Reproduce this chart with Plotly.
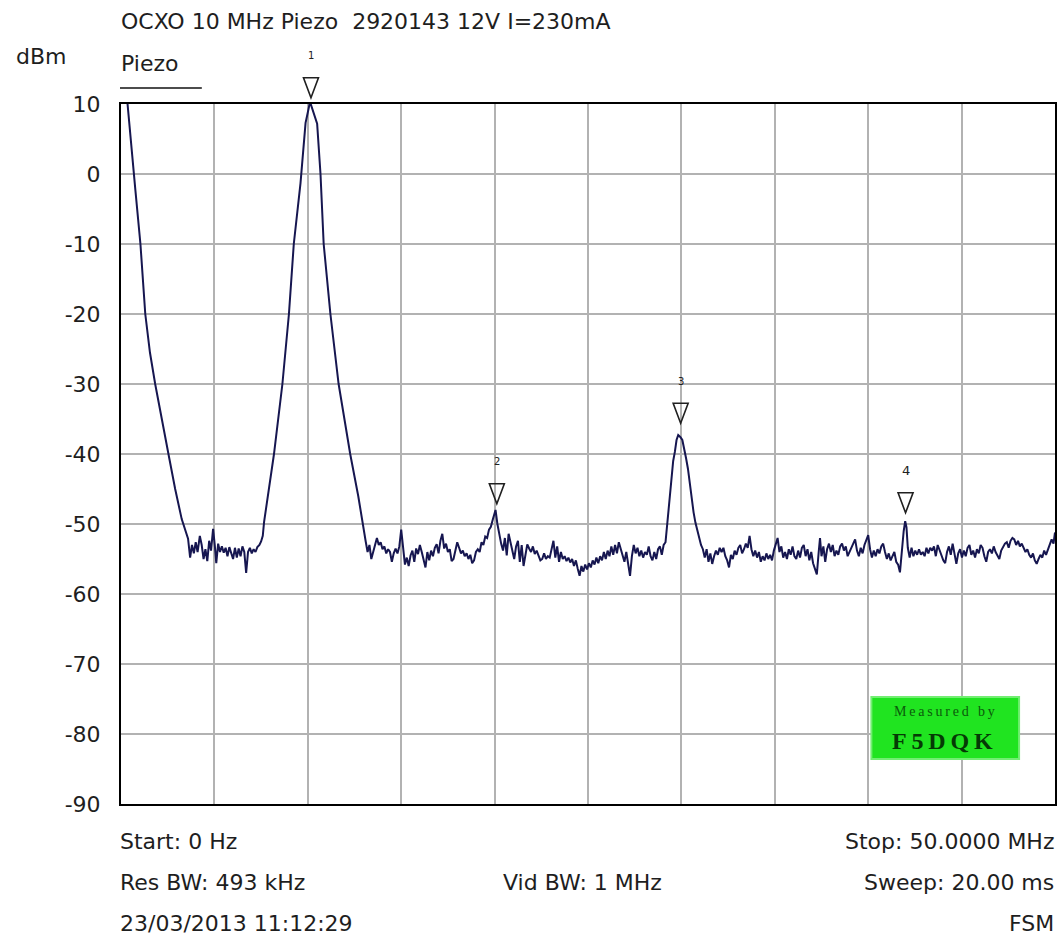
import plotly.graph_objects as go

# ---- data ----
FREQ_MHZ = [
    # LO feedthrough and first noise floor
    0.00, 0.35, 0.77, 1.04, 1.30, 1.55, 1.83, 2.20, 2.54, 2.90, 3.25,
    3.59, 3.70, 3.80, 3.90, 4.00, 4.10, 4.22, 4.32, 4.42, 4.52, 4.62, 4.72, 4.82, 4.93, 5.02, 5.10,
    5.20, 5.30, 5.40, 5.50, 5.60, 5.70, 5.80, 5.90, 6.00, 6.10, 6.20, 6.30, 6.40, 6.50, 6.60, 6.70,
    6.80, 6.90, 7.00, 7.10, 7.20, 7.30, 7.41, 7.50, 7.59,
    # 10 MHz carrier
    7.66, 7.92, 8.19, 8.64, 8.99, 9.25, 9.61, 9.88, 10.12, 10.50, 10.68, 10.85, 11.21, 11.65,
    12.27, 12.70,
    # noise floor 13-20 MHz
    12.97, 13.10, 13.20, 13.30, 13.40, 13.50, 13.60, 13.70, 13.80, 13.90, 14.00, 14.10, 14.20, 14.30,
    14.40, 14.50, 14.60, 14.70, 14.80, 14.90, 15.00, 15.10, 15.20, 15.30, 15.40, 15.50, 15.60, 15.70,
    15.80, 15.90, 16.00, 16.10, 16.20, 16.30, 16.40, 16.50, 16.60, 16.70, 16.80, 16.90, 17.00, 17.10,
    17.20, 17.30, 17.40, 17.50, 17.60, 17.70, 17.80, 17.90, 18.00, 18.10, 18.20, 18.30, 18.40, 18.50,
    18.60, 18.70, 18.80, 18.90, 19.00, 19.10, 19.20, 19.30, 19.40, 19.50, 19.60, 19.70, 19.80, 19.90,
    # 2nd harmonic and noise 20-29 MHz
    20.05, 20.15, 20.25, 20.35, 20.45, 20.55, 20.65, 20.75, 20.85, 20.95, 21.05, 21.15, 21.25, 21.35,
    21.45, 21.55, 21.65, 21.75, 21.85, 21.95, 22.05, 22.15, 22.25, 22.35, 22.45, 22.55, 22.65, 22.75,
    22.85, 22.95, 23.05, 23.15, 23.25, 23.35, 23.45, 23.55, 23.65, 23.75, 23.85, 23.95, 24.05, 24.15,
    24.25, 24.35, 24.45, 24.55, 24.65, 24.75, 24.85, 24.95, 25.05, 25.15, 25.25, 25.35, 25.45, 25.55,
    25.65, 25.75, 25.85, 25.95, 26.05, 26.15, 26.25, 26.35, 26.45, 26.55, 26.65, 26.75, 26.85, 26.95,
    27.05, 27.15, 27.25, 27.35, 27.45, 27.55, 27.65, 27.75, 27.85, 27.95, 28.05, 28.15, 28.25, 28.35,
    28.45, 28.55, 28.65, 28.75, 28.85, 28.95, 29.05, 29.15, 29.22,
    # 3rd harmonic
    29.30, 29.40, 29.47, 29.56, 29.65, 29.74, 29.83, 29.95, 30.05, 30.15, 30.25, 30.35, 30.45, 30.55,
    30.65, 30.75, 30.85, 30.95, 31.05, 31.15,
    # noise 31-50 MHz
    31.25, 31.35, 31.45, 31.55, 31.65, 31.75, 31.85, 31.95, 32.05, 32.15, 32.25, 32.35, 32.45, 32.55,
    32.65, 32.75, 32.85, 32.95, 33.05, 33.15, 33.25, 33.35, 33.45, 33.55, 33.65, 33.75, 33.85, 33.95,
    34.05, 34.15, 34.25, 34.35, 34.45, 34.55, 34.65, 34.75, 34.85, 34.95, 35.05, 35.15, 35.25, 35.35,
    35.45, 35.55, 35.65, 35.75, 35.85, 35.95, 36.05, 36.15, 36.25, 36.35, 36.45, 36.55, 36.65, 36.75,
    36.85, 36.95, 37.05, 37.15, 37.25, 37.35, 37.42, 37.50, 37.60, 37.70, 37.80, 37.90, 38.00, 38.10,
    38.20, 38.30, 38.40, 38.50, 38.60, 38.70, 38.80, 38.90, 39.00, 39.10, 39.20, 39.30, 39.40, 39.50,
    39.60, 39.70, 39.80, 39.90, 40.00, 40.10, 40.20, 40.30, 40.40, 40.50, 40.60, 40.70, 40.80, 40.90,
    41.00, 41.10, 41.20, 41.30, 41.40, 41.50, 41.60, 41.70, 41.80, 41.90, 41.98, 42.05, 42.12, 42.22,
    42.32, 42.42, 42.52, 42.62, 42.72, 42.82, 42.92, 43.02, 43.12, 43.22, 43.32, 43.42, 43.52, 43.62,
    43.72, 43.82, 43.92, 44.02, 44.12, 44.22, 44.32, 44.42, 44.52, 44.62, 44.72, 44.82, 44.92, 45.02,
    45.12, 45.22, 45.32, 45.42, 45.52, 45.62, 45.72, 45.82, 45.92, 46.02, 46.12, 46.22, 46.32, 46.42,
    46.52, 46.62, 46.72, 46.82, 46.92, 47.02, 47.12, 47.22, 47.32, 47.42, 47.52, 47.62, 47.72, 47.82,
    47.92, 48.02, 48.12, 48.22, 48.32, 48.42, 48.52, 48.62, 48.72, 48.82, 48.92, 49.02, 49.12, 49.22,
    49.32, 49.42, 49.52, 49.62, 49.72, 49.82, 49.92, 50.00,
]
LEVEL_DBM = [
    16.0, 10.0, -2.3, -10.0, -20.0, -25.5, -30.0, -35.5, -40.0, -45.0, -49.3,
    -52.1, -54.8, -53.0, -54.2, -52.6, -54.0, -51.7, -53.0, -55.0, -53.6, -55.3, -52.4, -53.8, -50.7, -53.0, -55.6,
    -52.8, -54.0, -53.2, -54.1, -53.4, -54.6, -53.3, -54.0, -55.0, -53.4, -54.8, -53.5, -54.6, -53.2, -54.0, -57.0,
    -54.0, -53.4, -54.2, -53.6, -54.0, -53.3, -53.0, -52.5, -51.7,
    -49.7, -45.0, -40.0, -30.0, -20.0, -10.0, -1.3, 7.3, 10.3, 7.2, 0.0, -10.0, -20.0, -30.0,
    -40.0, -46.0,
    -50.7, -52.5, -54.0, -53.0, -55.0, -54.0, -52.8, -52.0, -53.0, -52.6, -53.6, -53.2, -54.2, -53.6,
    -54.0, -55.4, -54.2, -53.5, -54.2, -53.2, -50.8, -53.5, -55.8, -54.8, -56.0, -54.5, -53.8, -55.4,
    -53.5, -54.3, -53.0, -54.0, -55.2, -56.2, -54.0, -55.2, -53.8, -54.6, -53.4, -52.9, -54.2, -52.4,
    -51.4, -53.5, -52.8, -54.0, -53.6, -55.3, -55.0, -53.6, -52.6, -53.4, -54.2, -53.8, -54.6, -54.2,
    -55.0, -54.4, -55.6, -55.2, -54.0, -53.6, -54.0, -52.6, -53.0, -51.8, -52.0, -50.8, -50.4, -49.4,
    -48.0, -50.0, -51.5, -52.8, -53.8, -52.0, -54.5, -51.4, -52.6, -54.0, -55.0, -53.2, -52.4, -55.4,
    -53.0, -56.0, -54.5, -52.9, -53.5, -54.0, -53.2, -54.3, -53.8, -54.6, -55.2, -55.0, -54.2, -55.0,
    -54.6, -54.8, -53.4, -52.4, -54.8, -53.2, -55.4, -54.0, -55.0, -54.6, -55.3, -54.8, -55.5, -55.0,
    -56.0, -55.2, -56.4, -57.4, -56.0, -56.8, -55.8, -56.5, -55.6, -56.2, -55.2, -55.8, -54.8, -55.6,
    -54.6, -55.2, -54.0, -55.0, -53.8, -54.6, -53.2, -54.4, -53.0, -54.2, -52.6, -53.6, -54.8, -55.4,
    -54.0, -55.6, -57.4, -54.6, -53.0, -54.2, -53.4, -54.6, -53.8, -54.8, -54.0, -54.4, -53.2, -54.6,
    -55.2, -54.0, -55.0, -53.6, -53.2, -54.4, -53.0, -52.6, -50.5,
    -47.9, -45.0, -43.1, -41.0, -39.7, -38.0, -37.3, -37.6, -38.0, -39.2, -40.6, -42.1, -44.4, -46.5,
    -48.3, -49.8, -51.0, -52.1, -53.0, -53.6,
    -54.8, -53.6, -55.4, -54.2, -55.7, -54.6, -53.8, -54.4, -53.4, -54.0, -53.4, -54.6, -55.2, -56.2,
    -54.4, -55.0, -53.8, -54.4, -53.4, -53.0, -54.2, -53.6, -52.8, -53.4, -51.7, -53.6, -54.6, -53.8,
    -54.8, -54.0, -55.4, -54.6, -55.2, -54.2, -55.0, -54.4, -55.2, -53.8, -52.8, -52.0, -54.0, -53.2,
    -54.8, -54.0, -55.0, -53.6, -54.4, -53.2, -54.6, -55.0, -53.8, -54.8, -53.4, -53.0, -54.6, -53.6,
    -55.2, -54.0, -55.6, -56.4, -57.2, -54.0, -52.0, -54.6, -53.2, -55.4, -53.6, -52.8, -54.0, -53.0,
    -54.6, -53.8, -54.4, -53.2, -52.8, -53.8, -53.2, -54.6, -54.0, -53.2, -52.6, -52.2, -53.8, -54.6,
    -53.4, -54.2, -53.0, -52.4, -51.6, -53.6, -54.8, -53.8, -54.6, -53.6, -54.2, -53.2, -52.8, -54.0,
    -55.0, -54.2, -55.2, -54.6, -54.0, -55.4, -55.8, -56.9, -53.6, -51.0, -49.6, -50.5, -53.4, -54.8,
    -53.4, -54.6, -53.8, -54.4, -53.6, -54.4, -54.0, -54.6, -53.4, -54.2, -53.4, -53.8, -53.2, -54.6,
    -53.0, -53.8, -54.4, -55.2, -55.6, -54.0, -53.2, -54.4, -52.8, -54.6, -55.7, -54.2, -53.6, -54.8,
    -53.8, -54.6, -53.4, -53.0, -54.4, -53.8, -54.8, -53.6, -54.2, -53.0, -53.4, -54.6, -55.4, -54.0,
    -53.6, -54.2, -53.2, -54.0, -54.6, -55.0, -53.8, -53.2, -52.8, -52.6, -53.4, -52.4, -52.0, -52.2,
    -53.0, -52.4, -53.2, -52.8, -53.4, -54.0, -53.6, -54.4, -54.8, -54.2, -55.2, -55.7, -55.0, -54.4,
    -54.8, -53.8, -54.4, -53.6, -53.0, -52.2, -52.8, -51.2,
]
MARKER_LABELS = ["1", "2", "3", "4"]
MARKER_FREQ_MHZ = [10.17, 20.12, 29.96, 42.0]
MARKER_LEVEL_DBM = [10.9, -47.1, -35.6, -48.4]
Y_TICKS = [10, 0, -10, -20, -30, -40, -50, -60, -70, -80, -90]

TITLE = "OCXO 10 MHz Piezo \u00a02920143 12V I=230mA"
TRACE_NAME = "Piezo"
LEFT_INFO = ["Start: 0 Hz", "Res BW: 493 kHz", "23/03/2013 11:12:29"]
MID_INFO = "Vid BW: 1 MHz"
RIGHT_INFO = ["Stop: 50.0000 MHz", "Sweep: 20.00 ms", "FSM"]

# ---- layout geometry (pixels) ----
W, H = 1059, 938
L, R, T, B = 121, 2, 104, 134
PW, PH = W - L - R, H - T - B
X_RANGE = [0, 50]
Y_RANGE = [-90, 10]


def px(x, y):
    return (x - L) / PW, 1 - (y - T) / PH


def data_to_paper(f, lv):
    return ((f - X_RANGE[0]) / (X_RANGE[1] - X_RANGE[0]),
            (lv - Y_RANGE[0]) / (Y_RANGE[1] - Y_RANGE[0]))


FONT = "DejaVu Sans, Verdana, sans-serif"
SERIF = "Liberation Serif, Times New Roman, serif"
TXT = "#1e1e1e"

fig = go.Figure()

fig.add_trace(go.Scatter(
    x=FREQ_MHZ, y=LEVEL_DBM, mode="lines",
    line=dict(color="#161650", width=2), showlegend=False, hoverinfo="skip",
))

ann = []
shapes = []


def text(s, x, y, anchor="left", size=22, color=TXT, fam=FONT):
    xp, yp = px(x, y)
    ann.append(dict(text=s, x=xp, y=yp, xref="paper", yref="paper", xanchor=anchor,
                    yanchor="middle", showarrow=False,
                    font=dict(family=fam, size=size, color=color)))


# marker triangles (paper coordinates so they are not clipped) and numbers
tri_h = 20 / PH
tri_hw = 7.5 / PW
lab_off = 22
for lab, f, lv in zip(MARKER_LABELS, MARKER_FREQ_MHZ, MARKER_LEVEL_DBM):
    xa, ya = data_to_paper(f, lv)
    path = (f"M {xa - tri_hw} {ya + tri_h} L {xa + tri_hw} {ya + tri_h} "
            f"L {xa} {ya} Z")
    shapes.append(dict(type="path", xref="paper", yref="paper", path=path,
                       line=dict(color="#202020", width=1.6), layer="above"))
    ann.append(dict(text=lab, x=xa, y=ya + tri_h, xref="paper", yref="paper",
                    xanchor="center", yanchor="middle", yshift=lab_off, showarrow=False,
                    font=dict(family=FONT, size=13 if lab == "4" else 10, color="#202020")))

text(TITLE, 119, 21)
text("dBm", 14, 56)
text(TRACE_NAME, 119, 64)
for i, s in enumerate(LEFT_INFO):
    text(s, 118, 841 + 41 * i)
text(MID_INFO, 502, 882)
for i, s in enumerate(RIGHT_INFO):
    text(s, 1058, 841 + 41 * i, anchor="right")

# green "Measured by" badge
bx0, by0 = px(873, 697)
bx1, by1 = px(1021, 759)
shapes.append(dict(type="rect", xref="paper", yref="paper", x0=bx0, x1=bx1, y0=by0, y1=by1,
                   fillcolor="#20e420", line=dict(color="#72ee72", width=2), layer="above"))
ux0, uy = px(120, 88)
ux1, _ = px(202, 88)
shapes.append(dict(type="line", xref="paper", yref="paper", x0=ux0, x1=ux1, y0=uy, y1=uy,
                   line=dict(color="#111111", width=1.5)))
text("M\u2009e\u2009a\u2009s\u2009u\u2009r\u2009e\u2009d\u2009 \u2009b\u2009y", 946, 711, anchor="center",
     size=14, color="#0b5a0b", fam=SERIF)
text("<b>F\u20095\u2009D\u2009Q\u2009K</b>", 944, 741, anchor="center", size=24, color="#053a05",
     fam=SERIF)

axis_common = dict(showline=True, linecolor="#000000", linewidth=2, mirror=True,
                   showgrid=True, gridcolor="#b2b2b2", gridwidth=1.5, zeroline=False)

fig.update_layout(
    width=W, height=H,
    margin=dict(l=L, r=R, t=T, b=B),
    paper_bgcolor="white", plot_bgcolor="white",
    xaxis=dict(range=X_RANGE, dtick=5, tick0=0, showticklabels=False, ticks="", **axis_common),
    yaxis=dict(range=Y_RANGE, tickvals=Y_TICKS, ticktext=[str(v) for v in Y_TICKS], ticks="",
               ticklabelstandoff=14, tickfont=dict(family=FONT, size=22, color=TXT), **axis_common),
    annotations=ann, shapes=shapes, showlegend=False,
)

fig.write_html("out.html", config={"displayModeBar": False},
               post_script="document.body.style.margin='0';document.body.style.overflow='hidden';")
